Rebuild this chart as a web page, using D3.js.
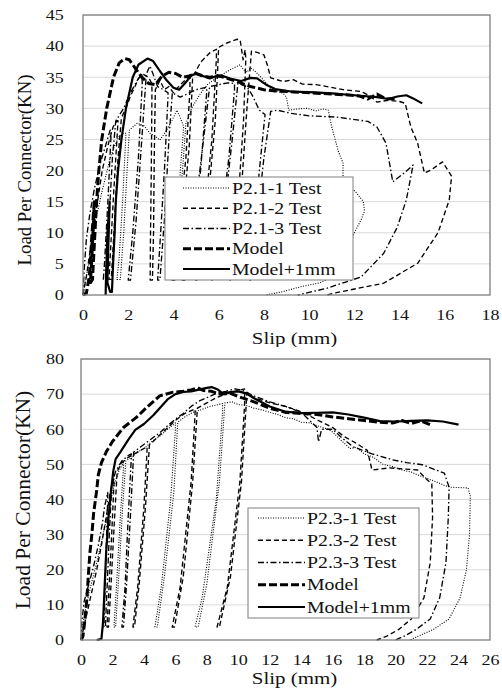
<!DOCTYPE html>
<html>
<head>
<meta charset="utf-8">
<script src="https://cdn.jsdelivr.net/npm/d3@7"></script>
<style>
  body { margin: 0; background: #fff; }
  svg { display: block; }
  svg text { font-family: 'Liberation Serif', 'Times New Roman', serif; }
</style>
</head>
<body>
<div id="chart"></div>
<script>
// ---- P2.1 panel (top) : [slip mm, load kN]
const p21Test1 = [[0,0],[0.1,2],[0.3,6],[0.5,11],[0.8,16],[1.0,19],[1.2,22],[1.4,24],[1.6,25.5],[1.8,26],
  [1.9,26],[1.75,15],[1.6,6],[1.5,2.5],[1.65,2.5],[1.8,10],[1.95,20],[2.05,26.5],
  [2.4,27.6],[2.7,27.2],[2.96,26],[3.2,25.5],[3.4,24.9],[3.7,26.5],[4.0,28.5],[4.15,29.7],[4.3,28.5],[4.4,27.6],
  [4.45,27],[4.2,15],[3.95,5],[3.85,2.4],[3.95,2.4],[4.15,10],[4.4,20],[4.55,27.5],
  [4.8,30],[5.2,32.4],[5.5,33.8],[5.75,34.5],[6.1,35.3],[6.5,36.2],[6.95,37],[7.1,36.2],[7.25,35.8],[7.4,36.5],[7.6,36],
  [8.0,34.5],[8.3,33.2],[8.85,32.4],[9.0,31.8],[9.1,29.7],[9.5,29.9],[9.9,30],[10.3,29.6],[10.6,29.9],[10.85,29.7],
  [11.0,27],[11.3,23],[11.5,21.2],[11.5,18.5],[12.1,16.4],[12.4,15],[12.45,13.5],[12.3,12.1],[12.0,10],[11.7,7],
  [11.4,3.5],[10.5,2],[9.6,1.3],[8.9,0.6],[8.1,0]];
const p21Test2 = [[0,0],[0.15,3],[0.35,8],[0.6,14],[0.85,20],[1.1,24],[1.33,27],[1.5,28],
  [1.55,28],[1.35,16],[1.2,6],[1.15,2.5],[1.25,2.5],[1.4,12],[1.55,22],[1.7,28.5],
  [1.9,30],[2.1,32],[2.3,33.5],[2.45,34.8],[2.65,35.5],[2.9,35],[3.04,34],
  [3.05,33],[3.02,20],[2.98,8],[2.97,2.4],[3.07,2.4],[3.12,10],[3.15,22],[3.2,33],
  [3.4,34.5],[3.6,33],[3.8,33.5],[4.0,32.5],[4.3,33.8],[4.6,34.8],[4.73,35],
  [4.73,33],[4.55,22],[4.2,10],[3.9,2.4],[4.05,2.4],[4.4,12],[4.7,24],[4.85,35],
  [5.2,37.4],[5.6,38.9],[5.9,39.5],
  [5.9,38],[5.7,25],[5.3,10],[5.0,2.4],[5.1,2.4],[5.5,14],[5.85,28],[6.0,39.8],
  [6.36,40.5],[6.8,41.1],[6.95,41],[7.08,37.8],[7.17,39.4],
  [7.2,38],[7.1,28],[6.8,12],[6.5,2.4],[6.6,2.4],[6.95,14],[7.25,30],[7.45,39.2],
  [7.7,39],[8.0,38.6],[8.15,37],[8.3,34.9],[8.85,34.3],[9.3,34.6],[9.7,33.9],[10.3,33.8],[10.8,33.5],[11.5,33],
  [12.3,32.7],[12.7,32],[13,31],[13.5,31.3],[14,31.1],[14.25,30.8],[14.5,27],[14.8,24.4],[15.1,19.6],[15.4,20.1],
  [15.9,21.4],[16.3,19.1],[16.2,15.3],[15.7,10],[14.8,5.1],[13.3,1.9],[11.1,0.3],[10.8,0]];
const p21Test3 = [[0,0],[0.05,4],[0.15,9],[0.3,13],[0.5,17],[0.75,21],[1.0,24],[1.2,26.5],
  [1.25,26.5],[1.1,15],[0.95,5],[0.9,2.5],[1.0,2.5],[1.15,12],[1.3,22],[1.45,28],
  [1.8,30],[2.1,32.5],[2.4,34.5],[2.6,35.5],
  [2.62,34],[2.45,22],[2.2,10],[2.0,2.4],[2.1,2.4],[2.35,12],[2.6,25],[2.8,35.5],
  [2.96,36.8],[3.1,35.5],[3.3,33.5],[3.55,33],[3.76,32.5],
  [3.76,31.9],[3.6,20],[3.4,8],[3.3,2.4],[3.4,2.4],[3.6,12],[3.8,25],[3.95,32.5],
  [4.3,31.8],[4.6,32.3],[5.0,33],[5.47,33.4],
  [5.47,32.5],[5.2,20],[4.7,8],[4.4,2.4],[4.5,2.4],[4.9,12],[5.3,24],[5.6,33.5],
  [6.0,33.8],[6.4,34.1],[6.7,34],
  [6.7,33],[6.45,22],[6.0,9],[5.7,2.4],[5.8,2.4],[6.2,12],[6.6,25],[6.85,34],
  [7.25,33.5],[7.5,32],[7.8,29.7],
  [8.05,29],[7.8,20],[7.5,8],[7.3,2.4],[7.4,2.4],[7.7,12],[8.0,22],[8.3,29.5],
  [8.6,29.7],[9.2,29.2],[10,28.8],[11.2,28.6],[12.6,27.9],[13,27],[13.4,24.4],[13.7,18.2],[14.2,19.6],[14.6,20.9],
  [14.3,15.3],[13.9,10.9],[13.3,6.7],[12.3,2.9],[10.8,1.1],[9.5,0]];
const p21Model = [[0,0],[0.15,0.3],[0.28,3],[0.4,10],[0.5,15],[0.42,8],[0.33,2],[0.42,2.5],[0.5,8],[0.6,15],
  [0.7,20],[0.83,25],[1.05,30],[1.35,35],[1.6,37.3],[1.85,38],[2.05,37.8],[2.3,36.5],[2.6,35],[2.9,34],[3.2,33.8],
  [3.5,35.2],[3.8,35.8],[4.1,35.6],[4.4,35],[4.7,35.2],[5.0,35.6],[5.3,35.2],[5.6,35],[6.0,35.2],[6.4,34.8],
  [6.9,34.2],[7.4,33.5],[8.0,33],[8.5,32.8],[9.5,32.6],[10.5,32.4],[11.5,32.2],[12.2,32],[12.6,31.5],[13.0,32.3],
  [13.4,31.5],[13.9,31.6]];
const p21Model1mm = [[1.0,0],[1.02,3],[1.08,10],[1.18,15],[1.12,8],[1.08,2],[1.2,0.5],[1.28,0.5],[1.33,5],
  [1.4,10],[1.45,15],[1.55,20],[1.7,25],[1.9,30],[2.2,35],[2.45,37],[2.85,38],[3.1,37.6],[3.4,36],[3.7,34.5],
  [4.0,33.3],[4.25,33],[4.5,34],[4.8,35.3],[5.0,35.6],[5.3,35.2],[5.6,34.8],[5.9,35.2],[6.1,35.3],[6.5,34.8],
  [7.0,34.4],[7.4,34.9],[7.7,34.8],[8.1,33.8],[8.5,33.1],[9.2,32.7],[10,32.6],[11,32.4],[12,32.1],[13,31.8],
  [13.5,31.5],[13.9,31.9],[14.3,32.1],[14.6,31.6],[15,30.8]];

// ---- P2.3 panel (bottom)
const p23Test1 = [[0,0],[0.1,4],[0.3,9],[0.6,15],[1.0,22],[1.4,30],[1.8,38],[2.1,44],[2.4,48],[2.7,50.5],
  [2.7,49],[2.5,35],[2.25,15],[2.1,3.7],[2.2,3.7],[2.4,18],[2.65,38],[2.85,51],
  [3.2,52],[3.6,53.5],[4.0,54.5],[4.5,56.5],[5.0,58],[5.5,60],[6.0,61.8],
  [6.0,60],[5.7,40],[5.1,15],[4.7,3.7],[4.85,3.7],[5.3,18],[5.9,42],[6.15,62],
  [6.6,63.5],[7.1,64.8],[7.6,65.5],[8.2,66.5],[8.7,67],[9.0,67.3],
  [9.0,65],[8.6,40],[7.7,12],[7.25,3.7],[7.45,3.7],[8.0,16],[8.8,45],[9.15,67.5],
  [9.6,67.8],[10,67],[10.5,66.8],[11,66],[11.6,65.4],[12,64.8],[12.5,64.2],[13,63.3],[13.5,63],[14,62],[14.6,61.8],
  [15,61],[15.6,60.2],[16,59.2],[16.5,57],[17.1,54.5],[17.5,54.8],[18,53],[18.6,52],[19.2,50],[19.8,49.4],
  [20.5,48.3],[21,47.8],[21.4,47],[22,46],[22.6,45],[23.1,44],[23.5,43.5],[24.0,43.4],[24.6,43.3],[24.75,41],
  [24.7,30],[24.5,20],[24.1,12],[23.4,6],[22.4,3],[21.4,1],[20.9,0]];
const p23Test2 = [[0,0],[0.15,3],[0.4,8],[0.7,14],[1.0,20],[1.3,27],[1.6,35],[1.9,43],[2.1,46],
  [2.1,45],[1.95,30],[1.75,12],[1.65,3.7],[1.75,3.7],[1.9,15],[2.1,32],[2.3,48],
  [2.6,50.5],[3.0,52],[3.4,53],[3.8,54],[4.2,55],
  [4.2,54],[4.0,38],[3.6,15],[3.3,3.7],[3.4,3.7],[3.7,16],[4.1,38],[4.35,55.5],
  [4.8,57.5],[5.4,60],[6.0,62.5],[6.6,64.5],[7.25,65.8],
  [7.25,64],[7.0,45],[6.3,15],[5.8,3.7],[5.95,3.7],[6.5,18],[7.1,45],[7.4,66],
  [8,67.5],[8.6,69],[9.2,70],[9.8,70.8],[10.4,71.5],
  [10.4,67],[10.1,45],[9.3,15],[8.65,3.7],[8.8,3.7],[9.5,18],[10.2,45],[10.55,70.5],
  [11,69],[12,67.5],[13,66.5],[14,65],[15,62.7],[16,60.5],[16.7,58],[17.5,56],[18.2,54],[18.5,48.4],[19.6,49],
  [20.5,48.7],[21.4,48.4],[22,45.6],[22.3,44.5],[22.35,35],[22.2,22],[21.8,12],[21,6],[20.2,3],[19.4,1],[18.8,0]];
const p23Test3 = [[0,0],[0.05,5],[0.2,11],[0.5,16],[0.8,21],[1.1,27],[1.35,33],[1.5,38],[1.7,42],
  [1.7,41],[1.6,25],[1.5,10],[1.45,3.7],[1.55,3.7],[1.65,14],[1.8,30],[1.95,44],
  [2.2,48],[2.6,51],[3.0,52.5],[3.2,53],
  [3.2,52],[3.0,35],[2.8,15],[2.6,3.7],[2.7,3.7],[2.9,16],[3.15,36],[3.35,53.5],
  [3.8,55],[4.4,57],[5.0,59],[5.5,61],[5.9,62.5],[6.5,64.5],[7.0,66.5],[7.5,68],[8,69],[8.6,70.2],[9.2,70.8],
  [9.8,71.5],[10.3,71],[11,69.5],[12,67.8],[13,66.5],[14,64.8],[15,60.5],[15.1,56.4],[15.3,60],[16,60],[16.6,57.5],
  [17.3,55],[18.5,53],[19.8,51.3],[20.7,50.5],[21.7,49.9],[22.5,48.5],[23.1,47.5],[23.4,43.5],[23.35,35],
  [23.2,22],[22.8,12],[22.2,6],[21.3,3],[20.6,1.2],[20.0,0]];
const p23Model = [[0,0],[0.12,1],[0.25,5.7],[0.38,12],[0.46,18],[0.57,25],[0.7,30.5],[0.8,36],[1.0,42.7],[1.1,47],
  [1.3,50.5],[1.6,53.5],[2.0,56.5],[2.7,60.5],[3.5,63.3],[4.2,66.3],[5.0,69.5],[5.8,70.5],[6.5,70.8],[7.0,71.2],
  [7.4,71.8],[7.8,71],[8.3,70.8],[8.8,70],[9.5,70.2],[10.2,69],[11,67.8],[12,66],[13,64.8],[14,64.5],[15,64.2],
  [16,63.5],[17,63],[18,62.5],[19,62],[19.8,61.8],[20.4,62.5],[21,61.6],[21.6,62.4],[22.2,61.3]];
const p23Model1mm = [[1.0,0],[1.3,0.3],[1.4,5],[1.5,15],[1.6,25],[1.75,35],[1.9,42],[2.05,48],[2.2,51.5],[2.5,53.5],
  [3.0,57],[3.45,59.8],[4.0,61.5],[4.6,64],[5.0,66],[5.5,68.5],[6.0,70],[6.5,70.6],[7.0,70.8],[7.5,71.3],[8.0,71.8],
  [8.3,72],[8.7,71.3],[9.0,70.2],[9.5,70.6],[10,70.8],[10.5,70.2],[11,68.8],[12,66.5],[13,65],[14,64.6],[15,64.7],
  [16,64.8],[17,64.2],[18,63.3],[19,62.3],[20,62.2],[21,62.4],[22,62.5],[23,62.2],[24,61.3]];

const xTicksTop = [0,2,4,6,8,10,12,14,16,18];
const yTicksTop = [0,5,10,15,20,25,30,35,40,45];
const xTicksBottom = [0,2,4,6,8,10,12,14,16,18,20,22,24,26];
const yTicksBottom = [0,10,20,30,40,50,60,70,80];
const labelsTop = ["P2.1-1 Test","P2.1-2 Test","P2.1-3 Test","Model","Model+1mm"];
const labelsBottom = ["P2.3-1 Test","P2.3-2 Test","P2.3-3 Test","Model","Model+1mm"];

const lineStyles = [
  {dash: "1,1.5", w: 1.1},
  {dash: "5,3", w: 1.35},
  {dash: "6,2.5,1.5,2.5", w: 1.35},
  {dash: "8,3", w: 3},
  {dash: null, w: 2.2}
];

const svg = d3.select("#chart").append("svg").attr("width", 502).attr("height", 696);

function drawPanel(p) {
  const x = d3.scaleLinear().domain([0, p.xMax]).range([p.left, p.right]);
  const y = d3.scaleLinear().domain([0, p.yMax]).range([p.bottom, p.top]);
  const g = svg.append("g");

  g.append("rect").attr("x", 0).attr("y", p.bgTop).attr("width", 502).attr("height", p.bgH).attr("fill", "#fff");

  // gridlines
  g.append("g").selectAll("line").data(p.yTicks.filter(v => v > 0)).join("line")
    .attr("x1", p.left).attr("x2", p.right)
    .attr("y1", d => y(d)).attr("y2", d => y(d))
    .attr("stroke", "#d9d9d9").attr("stroke-width", 1);

  const xa = g.append("g").attr("transform", `translate(0,${p.bottom})`)
    .call(d3.axisBottom(x).tickValues(p.xTicks).tickSize(0).tickPadding(p.xPad));
  xa.select(".domain").remove();
  xa.attr("font-family", null).attr("font-size", 15).attr("color", "#111");
  xa.selectAll("text").attr("transform", "scale(1.2,1)");

  const ya = g.append("g").attr("transform", `translate(${p.left},0)`)
    .call(d3.axisLeft(y).tickValues(p.yTicks).tickSize(0).tickPadding(p.yPad));
  ya.select(".domain").remove();
  ya.attr("font-family", null).attr("font-size", 15).attr("color", "#111");
  ya.selectAll("text").attr("transform", "scale(1.2,1)");

  const clipId = "clip" + p.id;
  svg.append("clipPath").attr("id", clipId).append("rect")
    .attr("x", p.left - 1).attr("y", p.top).attr("width", p.right - p.left + 1).attr("height", p.bottom - p.top + 2);

  const line = d3.line().x(d => x(d[0])).y(d => y(d[1]));
  const plot = g.append("g").attr("clip-path", `url(#${clipId})`);
  p.series.forEach((s, i) => {
    plot.append("path").datum(s).attr("d", line)
      .attr("fill", "none").attr("stroke", "#000")
      .attr("stroke-width", lineStyles[i].w)
      .attr("stroke-dasharray", lineStyles[i].dash)
      .attr("stroke-linejoin", "round");
  });

  g.append("rect").attr("x", p.left).attr("y", p.top)
    .attr("width", p.right - p.left).attr("height", p.bottom - p.top)
    .attr("fill", "none").attr("stroke", "#7f7f7f").attr("stroke-width", 1.3);

  // legend
  const L = p.legend;
  const lg = g.append("g");
  lg.append("rect").attr("x", L.x).attr("y", L.y).attr("width", L.w).attr("height", L.h)
    .attr("fill", "#fff").attr("stroke", "#7f7f7f").attr("stroke-width", 1);
  p.labels.forEach((lab, i) => {
    const ry = L.row0 + i * L.step;
    lg.append("line").attr("x1", L.s0).attr("x2", L.s1).attr("y1", ry).attr("y2", ry)
      .attr("stroke", "#000").attr("stroke-width", lineStyles[i].w)
      .attr("stroke-dasharray", lineStyles[i].dash);
    lg.append("text").text(lab)
      .attr("transform", `translate(${L.tx},${ry + 5.5}) scale(1.2,1)`)
      .attr("font-size", 16.5).attr("fill", "#111");
  });

  // axis titles
  g.append("text").text("Slip (mm)")
    .attr("transform", `translate(294.5,${p.xTitleY}) scale(1.27,1)`)
    .attr("text-anchor", "middle").attr("font-size", 16.5).attr("fill", "#111");
  g.append("text").text("Load Per Connector(KN)")
    .attr("transform", `translate(${p.yTitleX},${p.yTitleY}) rotate(-90)`)
    .attr("text-anchor", "middle").attr("font-size", p.yTitleSize).attr("fill", "#111");
}

drawPanel({
  id: "top", left: 83, right: 490, top: 15, bottom: 295, xMax: 18, yMax: 45,
  bgTop: 0, bgH: 347,
  xTicks: xTicksTop, yTicks: yTicksTop, xPad: 14.3, yPad: 16,
  series: [p21Test1, p21Test2, p21Test3, p21Model, p21Model1mm],
  labels: labelsTop,
  legend: {x: 165, y: 177, w: 188, h: 103, row0: 188, step: 20.25, s0: 183, s1: 230, tx: 232},
  xTitleY: 344, yTitleX: 31, yTitleY: 170, yTitleSize: 18.8
});

drawPanel({
  id: "bottom", left: 81, right: 490, top: 359, bottom: 640, xMax: 26, yMax: 80,
  bgTop: 347, bgH: 349,
  xTicks: xTicksBottom, yTicks: yTicksBottom, xPad: 14.5, yPad: 14.2,
  series: [p23Test1, p23Test2, p23Test3, p23Model, p23Model1mm],
  labels: labelsBottom,
  legend: {x: 248, y: 508, w: 171, h: 110, row0: 518, step: 22.25, s0: 258, s1: 305, tx: 307},
  xTitleY: 684, yTitleX: 30, yTitleY: 500, yTitleSize: 21.5
});
</script>
</body>
</html>
